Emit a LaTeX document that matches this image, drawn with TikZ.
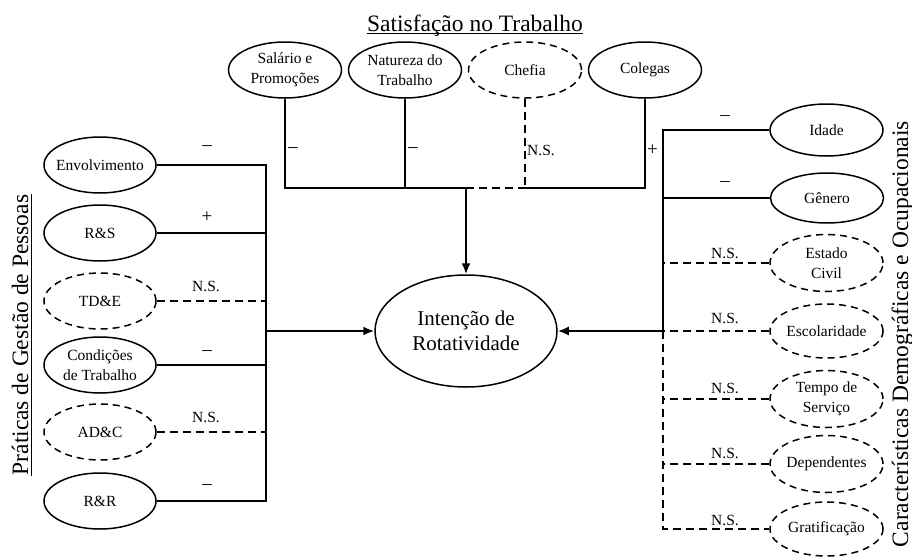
\documentclass[tikz,border=0pt]{standalone}
\usepackage{fontspec}
\setmainfont{Liberation Serif}
\usetikzlibrary{shapes.geometric,arrows.meta,calc}
\begin{document}
\begin{tikzpicture}[x=1pt,y=-1pt,
 ov/.style={ellipse,draw,line width=1.5pt,inner sep=-6pt,minimum width=113pt,minimum height=56pt,align=center,font=\fontsize{15.5}{19.5}\selectfont},
 dov/.style={ov,dash pattern=on 7pt off 5pt},
 ln/.style={line width=1.6pt},
 dln/.style={ln,dash pattern=on 8pt off 5pt},
 arr/.style={line width=2pt,-{Latex[length=11pt,width=9pt]}},
 lab/.style={font=\fontsize{15.5}{18}\selectfont,inner sep=1pt},
 mlab/.style={font=\fontsize{19}{20}\selectfont,inner sep=1pt},
 ttl/.style={font=\fontsize{23.5}{28}\selectfont,inner sep=0pt,anchor=base}]
\useasboundingbox (0,0) rectangle (912,557);

% titles
\node[ttl] (tt) at (475,31) {Satisfação no Trabalho};
\draw[line width=1pt] ([yshift=-2.5pt]tt.base west) -- ([yshift=-2.5pt]tt.base east);
\node[ttl,rotate=90] (lt) at (28,335) {Práticas de Gestão de Pessoas};
\draw[line width=1pt] ([xshift=3pt]lt.base west) -- ([xshift=3pt]lt.base east);
\node[ttl,rotate=90] (rt) at (908,334) {Características Demográficas e Ocupacionais};

% central
\node[ov,minimum width=182pt,minimum height=112pt,font=\fontsize{21}{25}\selectfont] (main) at (466,331) {Intenção de\\Rotatividade};

% top
\node[ov] (sal) at (285,70) {Salário e\\Promoções};
\node[ov] (nat) at (405,70) {Natureza do\\Trabalho};
\node[dov] (che) at (525,70) {Chefia};
\node[ov] (col) at (645,70) {Colegas};

% left
\node[ov,minimum width=112pt] (env) at (100,165) {Envolvimento};
\node[ov,minimum width=112pt] (rs) at (100,233) {R\&S};
\node[dov,minimum width=112pt] (tde) at (100,301) {TD\&E};
\node[ov,minimum width=112pt] (cond) at (100,365) {Condições\\de Trabalho};
\node[dov,minimum width=112pt] (adc) at (100,432) {AD\&C};
\node[ov,minimum width=112pt] (rr) at (100,501) {R\&R};

% right
\node[ov,minimum height=52pt] (ida) at (826.5,130) {Idade};
\node[ov,minimum height=50pt] (gen) at (827,198) {Gênero};
\node[dov,minimum height=57pt] (est) at (826.5,263) {Estado\\Civil};
\node[dov,minimum height=54pt] (esc) at (826.5,331) {Escolaridade};
\node[dov,minimum height=57pt] (tem) at (826.5,399) {Tempo de\\Serviço};
\node[dov,minimum height=57pt] (dep) at (826.5,464) {Dependentes};
\node[dov,minimum height=54pt] (gra) at (826.5,529) {Gratificação};

\coordinate (lbx) at (266,0);
\coordinate (rbx) at (663,0);
\coordinate (bary) at (0,188);
\coordinate (barM) at (main.north |- bary);

% top connectors
\draw[ln] (sal.south) -- (sal.south |- bary) -- (barM);
\draw[ln] (nat.south) -- (nat.south |- bary);
\draw[dln] (barM) -- (che.south |- bary);
\draw[dln] (che.south) -- (che.south |- bary);
\draw[ln] (che.south |- bary) -- (col.south |- bary) -- (col.south);
\draw[arr] (barM) -- (main.north);

% left connectors
\draw[ln] (env.east) -- (env.east -| lbx) -- (rr.east -| lbx) -- (rr.east);
\draw[ln] (rs.east) -- (rs.east -| lbx);
\draw[dln] (tde.east) -- (tde.east -| lbx);
\draw[ln] (cond.east) -- (cond.east -| lbx);
\draw[dln] (adc.east) -- (adc.east -| lbx);
\draw[arr] (main.west -| lbx) -- (main.west);

% right connectors
\draw[ln] (ida.west) -- (ida.west -| rbx) -- (main.east -| rbx);
\draw[dln] (main.east -| rbx) -- (gra.west -| rbx) -- (gra.west);
\draw[ln] (gen.west) -- (gen.west -| rbx);
\draw[dln] (est.west) -- (est.west -| rbx);
\draw[dln] (esc.west) -- (esc.west -| rbx);
\draw[dln] (tem.west) -- (tem.west -| rbx);
\draw[dln] (dep.west) -- (dep.west -| rbx);
\draw[arr] (main.east -| rbx) -- (main.east);

% labels top
\node[mlab,anchor=west] (t1) at (287,150) {–};
\node[mlab,anchor=west] (t2) at (407,150) {–};
\node[lab,anchor=west] (t3) at (526,150) {N.S.};
\node[mlab,anchor=west] (t4) at (646,150) {+};

% labels left
\node[mlab] (l1) at (207,148) {–};
\node[mlab] (l2) at (207,217) {+};
\node[lab] (l3) at (206,286) {N.S.};
\node[mlab] (l4) at (207,353) {–};
\node[lab] (l5) at (206,417) {N.S.};
\node[mlab] (l6) at (207,487) {–};

% labels right
\node[mlab] (r1) at (725,118) {–};
\node[mlab] (r2) at (725,184) {–};
\node[lab] (r3) at (725,253) {N.S.};
\node[lab] (r4) at (725,318) {N.S.};
\node[lab] (r5) at (725,388) {N.S.};
\node[lab] (r6) at (725,453) {N.S.};
\node[lab] (r7) at (725,520) {N.S.};
\end{tikzpicture}
\end{document}
